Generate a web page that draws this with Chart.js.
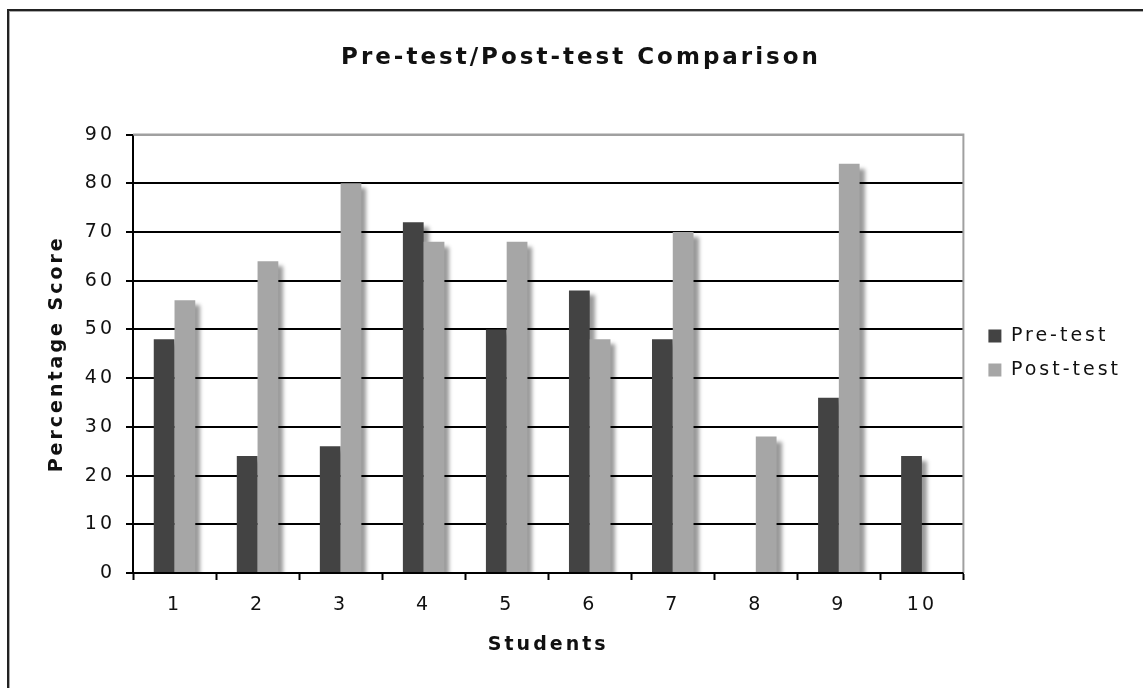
<!DOCTYPE html>
<html>
<head>
<meta charset="utf-8">
<script src="https://cdn.jsdelivr.net/npm/chart.js@4.4.0/dist/chart.umd.min.js"></script>
<style>
  body { margin: 0; background: #fff; }
  #wrap { position: relative; width: 1143px; height: 688px; overflow: hidden; }
  #frame {
    position: absolute; left: 7px; top: 9px; width: 1200px; height: 700px;
    border-left: 2px solid #222; border-top: 2px solid #222;
    box-shadow: inset 1px 1px 0 #aaa;
  }
  #chart { position: absolute; left: 0; top: 0; }
</style>
</head>
<body>
<div id="wrap">
  <div id="frame"></div>
  <canvas id="chart" width="1143" height="688"></canvas>
</div>
<script>
const students = ['1', '2', '3', '4', '5', '6', '7', '8', '9', '10'];
const preTest = [48, 24, 26, 72, 50, 58, 48, 0, 36, 24];
const postTest = [56, 64, 80, 68, 68, 48, 70, 28, 84, 0];
const seriesNames = ['Pre-test', 'Post-test'];
const yTicks = [0, 10, 20, 30, 40, 50, 60, 70, 80, 90];

const fontFamily = '"DejaVu Sans", Verdana, sans-serif';
const textColor = '#111';

Chart.defaults.font.family = fontFamily;
Chart.defaults.color = textColor;

// old mac text looks wide, so space the letters a bit
const spacing = {
  id: 'spacing',
  afterInit: chart => { chart.ctx.letterSpacing = '3px'; },
  beforeUpdate: chart => { chart.ctx.letterSpacing = '3px'; },
  beforeLayout: chart => { chart.ctx.letterSpacing = '3px'; },
  beforeDraw: chart => { chart.ctx.letterSpacing = '3px'; },
};

// gray frame on the plot area, bars drawn first-to-last with a soft shadow
let drawingBars = false;
const plotFrame = {
  id: 'plotFrame',
  beforeDatasetDraw() {
    return drawingBars;
  },
  afterDatasetsDraw(chart) {
    const {ctx, chartArea: a} = chart;
    ctx.save();
    ctx.strokeStyle = '#a0a0a0';
    ctx.lineWidth = 2;
    ctx.beginPath();
    ctx.moveTo(a.left, a.top);
    ctx.lineTo(a.right, a.top);
    ctx.lineTo(a.right, a.bottom);
    ctx.stroke();
    ctx.restore();

    ctx.save();
    ctx.beginPath();
    ctx.rect(a.left, a.top, a.right - a.left, a.bottom - a.top);
    ctx.clip();
    ctx.shadowColor = 'rgba(0, 0, 0, 0.4)';
    ctx.shadowBlur = 4;
    ctx.shadowOffsetX = 5;
    ctx.shadowOffsetY = 5;
    drawingBars = true;
    chart.data.datasets.forEach((ds, i) => chart.getDatasetMeta(i).controller.draw());
    drawingBars = false;
    ctx.restore();

    ctx.save();
    ctx.strokeStyle = '#000';
    ctx.lineWidth = 2;
    ctx.beginPath();
    ctx.moveTo(a.left - 1, a.bottom);
    ctx.lineTo(a.right, a.bottom);
    ctx.stroke();
    ctx.restore();
  },
};

const chart = new Chart(document.getElementById('chart').getContext('2d'), {
  type: 'bar',
  data: {
    labels: students,
    datasets: [{
      label: seriesNames[0],
      data: preTest,
      backgroundColor: '#434343',
      borderWidth: 0,
    }, {
      label: seriesNames[1],
      data: postTest,
      backgroundColor: '#a6a6a6',
      borderWidth: 0,
    }],
  },
  options: {
    responsive: false,
    animation: false,
    devicePixelRatio: 1,
    layout: {
      padding: { left: 31, right: 12, top: 0, bottom: 0 },
    },
    datasets: {
      bar: {
        categoryPercentage: 0.5,
        barPercentage: 1,
      },
    },
    plugins: {
      title: {
        display: true,
        text: 'Pre-test/Post-test Comparison',
        color: textColor,
        font: { size: 23, weight: 'bold' },
        padding: { top: 44, bottom: 63 },
      },
      legend: {
        position: 'right',
        align: 'center',
        title: {
          display: true,
          text: ' ',
          font: { size: 10 },
          padding: { top: 3, bottom: 3 },
        },
        labels: {
          color: textColor,
          font: { size: 19 },
          boxWidth: 13,
          boxHeight: 13,
          padding: 15,
        },
      },
      tooltip: { enabled: false },
    },
    scales: {
      x: {
        grid: {
          offset: true,
          drawOnChartArea: false,
          drawTicks: true,
          tickLength: 7,
          tickColor: '#000',
          tickWidth: 2,
        },
        border: { display: true, color: '#000', width: 2 },
        ticks: {
          color: textColor,
          font: { size: 19 },
          padding: 14,
          maxRotation: 0,
        },
        title: {
          display: true,
          text: 'Students',
          color: textColor,
          font: { size: 19, weight: 'bold' },
          padding: { top: 0, bottom: 32 },
        },
        afterFit: scale => { scale.height = 115; },
      },
      y: {
        min: 0,
        max: 90,
        afterBuildTicks: scale => { scale.ticks = yTicks.map(v => ({ value: v })); },
        grid: {
          color: c => (c.tick && c.tick.value === 90 ? '#a0a0a0' : '#000'),
          lineWidth: 2,
          drawTicks: true,
          tickLength: 7,
          tickColor: '#000',
        },
        border: { display: true, color: '#000', width: 2 },
        ticks: {
          color: textColor,
          font: { size: 19 },
          padding: 11,
        },
        title: {
          display: true,
          text: 'Percentage Score',
          color: textColor,
          font: { size: 19, weight: 'bold' },
          padding: { top: 15, bottom: 0 },
        },
        afterFit: scale => { scale.width = 102; },
      },
      gap: {
        type: 'linear',
        position: 'right',
        display: true,
        grid: { display: false, drawTicks: false },
        border: { display: false },
        ticks: { display: false },
        afterFit: scale => { scale.width = 10; },
      },
    },
  },
  plugins: [spacing, plotFrame],
});
</script>
</body>
</html>
